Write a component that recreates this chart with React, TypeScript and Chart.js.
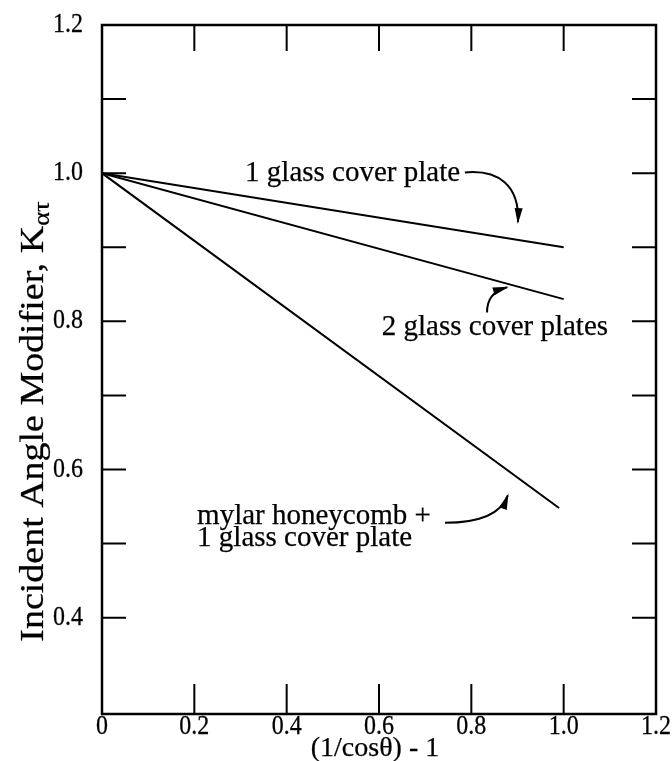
import React, { useEffect, useRef } from "react";
import { Chart, registerables } from "chart.js";

Chart.register(...registerables);

// ---- data ----
const seriesNames = ["1 glass cover plate", "2 glass cover plates", "mylar honeycomb + 1 glass cover plate"];
const oneGlassX = [0, 1.0];
const oneGlassY = [1.0, 0.9];
const twoGlassX = [0, 1.0];
const twoGlassY = [1.0, 0.83];
const mylarX = [0, 0.99];
const mylarY = [1.0, 0.548];

const xTickValues = [0, 0.2, 0.4, 0.6, 0.8, 1.0, 1.2];
const xTickLabels = ["0", "0.2", "0.4", "0.6", "0.8", "1.0", "1.2"];
const yTickValues = [0.4, 0.6, 0.8, 1.0, 1.2];
const yTickLabels = ["0.4", "0.6", "0.8", "1.0", "1.2"];
const xInnerTicks = [0.2, 0.4, 0.6, 0.8, 1.0];
const yInnerTicks = [0.4, 0.5, 0.6, 0.7, 0.8, 0.9, 1.0, 1.1];
const xRange = [0, 1.2];
const yRange = [0.27, 1.2];

const xTitle = "(1/cosθ) - 1";
const yTitleMain = "Incident Angle Modifier, K";
const yTitleSub = "ατ";

// annotation anchors in data units
const labelTexts = [["1 glass cover plate"], ["2 glass cover plates"], ["mylar honeycomb +", "1 glass cover plate"]];
const labelAnchors = [[0.31, 0.99], [0.606, 0.781], [0.206, 0.527]];
const arrowPaths = [
  [[0.786, 1.001], [0.858, 1.005], [0.905, 0.984], [0.901, 0.934]],
  [[0.834, 0.812], [0.834, 0.83], [0.846, 0.84], [0.877, 0.846]],
  [[0.743, 0.528], [0.808, 0.528], [0.862, 0.536], [0.879, 0.565]],
];

const SERIF = '"Liberation Serif", "Times New Roman", serif';
const STRETCH = 1.13; // vertical text stretch seen in the scanned figure
const INK = 0.25; // slight glyph thickening like the scanned print

const toPoints = (xs: number[], ys: number[]) => xs.map((x, i) => ({ x, y: ys[i] }));

function inkText(ctx: CanvasRenderingContext2D, text: string, x: number, y: number) {
  ctx.fillText(text, x, y);
  ctx.lineWidth = INK;
  ctx.strokeText(text, x, y);
}

function stretchedText(ctx: CanvasRenderingContext2D, text: string, x: number, y: number, sy: number) {
  ctx.save();
  ctx.translate(x, y);
  ctx.scale(1, sy);
  inkText(ctx, text, 0, 0);
  ctx.restore();
}

const decorPlugin = {
  id: "decor",
  afterDatasetsDraw(chart: any) {
    const { ctx, chartArea: a, scales } = chart;
    const xs = scales.x;
    const ys = scales.y;
    const px = (v: number) => xs.getPixelForValue(v);
    const py = (v: number) => ys.getPixelForValue(v);
    ctx.save();
    ctx.strokeStyle = "#000";
    ctx.fillStyle = "#000";
    // frame
    ctx.lineWidth = 2.5;
    ctx.strokeRect(a.left, a.top, a.right - a.left, a.bottom - a.top);
    // inner ticks
    ctx.lineWidth = 2;
    ctx.beginPath();
    xInnerTicks.forEach((v) => {
      const x = px(v);
      ctx.moveTo(x, a.top);
      ctx.lineTo(x, a.top + 26);
      ctx.moveTo(x, a.bottom);
      ctx.lineTo(x, a.bottom - 30);
    });
    yInnerTicks.forEach((v) => {
      const y = py(v);
      ctx.moveTo(a.left, y);
      ctx.lineTo(a.left + 24, y);
      ctx.moveTo(a.right, y);
      ctx.lineTo(a.right - 24, y);
    });
    ctx.stroke();

    // tick labels
    ctx.font = `24px ${SERIF}`;
    ctx.textBaseline = "middle";
    ctx.textAlign = "right";
    yTickValues.forEach((v, i) => stretchedText(ctx, yTickLabels[i], a.left - 19, py(v), STRETCH));
    ctx.textAlign = "center";
    ctx.textBaseline = "alphabetic";
    xTickValues.forEach((v, i) => stretchedText(ctx, xTickLabels[i], px(v), a.bottom + 20, STRETCH));

    // annotation texts
    ctx.font = `29px ${SERIF}`;
    ctx.textAlign = "left";
    ctx.textBaseline = "alphabetic";
    labelTexts.forEach((lines, i) => {
      const [ax, ay] = labelAnchors[i];
      lines.forEach((t, j) => inkText(ctx, t, px(ax), py(ay) + j * 22));
    });

    // arrows
    arrowPaths.forEach((pts) => {
      const p = pts.map(([x, y]) => [px(x), py(y)]);
      ctx.lineWidth = 2;
      ctx.beginPath();
      ctx.moveTo(p[0][0], p[0][1]);
      ctx.bezierCurveTo(p[1][0], p[1][1], p[2][0], p[2][1], p[3][0], p[3][1]);
      ctx.stroke();
      const ang = Math.atan2(p[3][1] - p[2][1], p[3][0] - p[2][0]);
      const L = 14;
      const W = 4;
      ctx.beginPath();
      ctx.moveTo(p[3][0] + Math.cos(ang) * 2, p[3][1] + Math.sin(ang) * 2);
      ctx.lineTo(p[3][0] - Math.cos(ang) * L - Math.sin(ang) * W, p[3][1] - Math.sin(ang) * L + Math.cos(ang) * W);
      ctx.lineTo(p[3][0] - Math.cos(ang) * L + Math.sin(ang) * W, p[3][1] - Math.sin(ang) * L - Math.cos(ang) * W);
      ctx.closePath();
      ctx.fill();
    });

    // x title
    ctx.font = `28px ${SERIF}`;
    ctx.textAlign = "center";
    ctx.textBaseline = "alphabetic";
    inkText(ctx, xTitle, (a.left + a.right) / 2 - 4, a.bottom + 42);

    // y title (rotated, with subscript, stretched along its length)
    ctx.save();
    ctx.translate(43, (a.top + a.bottom) / 2 + 52);
    ctx.rotate(-Math.PI / 2);
    ctx.scale(1.15, 1);
    ctx.font = `33px ${SERIF}`;
    const wMain = ctx.measureText(yTitleMain).width;
    ctx.font = `23px ${SERIF}`;
    const wSub = ctx.measureText(yTitleSub).width;
    const start = -(wMain + wSub) / 2;
    ctx.textAlign = "left";
    ctx.font = `33px ${SERIF}`;
    inkText(ctx, yTitleMain, start, 0);
    ctx.font = `23px ${SERIF}`;
    inkText(ctx, yTitleSub, start + wMain, 6);
    ctx.restore();

    ctx.restore();
  },
};

export default function App() {
  const canvasRef = useRef<HTMLCanvasElement | null>(null);

  useEffect(() => {
    document.body.style.margin = "0";
    const canvas = canvasRef.current;
    if (!canvas) return;
    const lineStyle = { borderColor: "#000", borderWidth: 2, pointRadius: 0, showLine: true, fill: false, tension: 0 };
    const chart = new Chart(canvas, {
      type: "scatter",
      data: {
        datasets: [
          { label: seriesNames[0], data: toPoints(oneGlassX, oneGlassY), ...lineStyle },
          { label: seriesNames[1], data: toPoints(twoGlassX, twoGlassY), ...lineStyle },
          { label: seriesNames[2], data: toPoints(mylarX, mylarY), ...lineStyle },
        ],
      },
      options: {
        responsive: false,
        animation: false,
        devicePixelRatio: 1,
        layout: { padding: { left: 0, right: 16, top: 25, bottom: 0 } },
        plugins: { legend: { display: false }, tooltip: { enabled: false }, title: { display: false } },
        scales: {
          x: {
            type: "linear",
            min: xRange[0],
            max: xRange[1],
            grid: { display: false, drawTicks: false },
            border: { display: false },
            ticks: { display: false },
            afterFit: (s: any) => {
              s.height = 47;
              s.paddingLeft = 0;
              s.paddingRight = 0;
              s.paddingTop = 0;
              s.paddingBottom = 0;
            },
          },
          y: {
            type: "linear",
            min: yRange[0],
            max: yRange[1],
            grid: { display: false, drawTicks: false },
            border: { display: false },
            ticks: { display: false },
            afterFit: (s: any) => {
              s.width = 102;
              s.paddingLeft = 0;
              s.paddingRight = 0;
              s.paddingTop = 0;
              s.paddingBottom = 0;
            },
          },
        },
      },
      plugins: [decorPlugin],
    });
    return () => chart.destroy();
  }, []);

  return (
    <div style={{ width: 672, height: 761, background: "#fff" }}>
      <canvas ref={canvasRef} width={672} height={761} style={{ display: "block" }} />
    </div>
  );
}
